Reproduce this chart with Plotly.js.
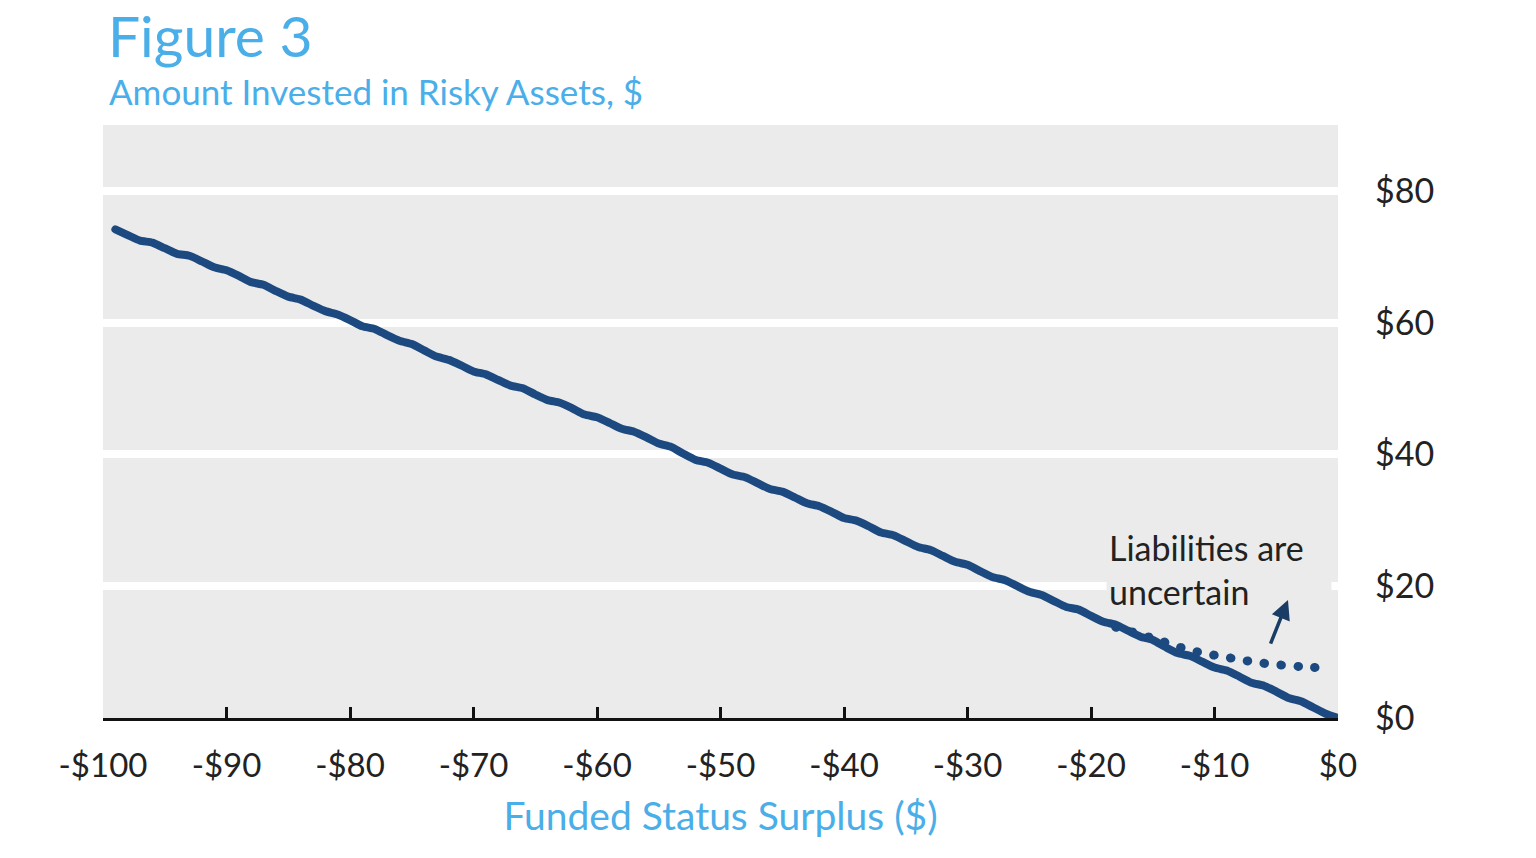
<!DOCTYPE html>
<html>
<head>
<meta charset="utf-8">
<script src="https://cdn.plot.ly/plotly-3.0.1.min.js"></script>
<style>
  html, body { margin: 0; padding: 0; background: #ffffff; }
  #chart { width: 1536px; height: 858px; }
  .js-line { stroke-linecap: round; stroke-linejoin: round; }
</style>
</head>
<body>
<div id="chart"></div>
<script>
// Funded status surplus ($)
const surplus = [
  -99, -98, -97, -96, -95, -94, -93, -92, -91, -90,
  -89, -88, -87, -86, -85, -84, -83, -82, -81, -80,
  -79, -78, -77, -76, -75, -74, -73, -72, -71, -70,
  -69, -68, -67, -66, -65, -64, -63, -62, -61, -60,
  -59, -58, -57, -56, -55, -54, -53, -52, -51, -50,
  -49, -48, -47, -46, -45, -44, -43, -42, -41, -40,
  -39, -38, -37, -36, -35, -34, -33, -32, -31, -30,
  -29, -28, -27, -26, -25, -24, -23, -22, -21, -20,
  -19, -18, -17, -16, -15, -14, -13, -12, -11, -10,
  -9, -8, -7, -6, -5, -4, -3, -2, -1, 0
];
// Amount invested in risky assets ($), liabilities certain
const riskyAssets = [
  74.15, 73.3, 72.45, 72.15, 71.3, 70.45, 70.15, 69.3, 68.4, 67.95,
  67.1, 66.15, 65.75, 64.8, 63.95, 63.5, 62.6, 61.75, 61.25, 60.4,
  59.45, 59.05, 58.1, 57.25, 56.75, 55.8, 54.85, 54.35, 53.5, 52.6,
  52.15, 51.3, 50.45, 50.05, 49.1, 48.25, 47.85, 47.0, 46.05, 45.65,
  44.8, 43.9, 43.45, 42.6, 41.65, 41.15, 40.1, 39.15, 38.75, 37.85,
  36.95, 36.55, 35.65, 34.75, 34.35, 33.5, 32.6, 32.15, 31.3, 30.35,
  29.95, 29.1, 28.15, 27.75, 26.85, 25.95, 25.5, 24.6, 23.7, 23.25,
  22.3, 21.4, 20.95, 20.05, 19.15, 18.65, 17.75, 16.85, 16.45, 15.5,
  14.6, 14.15, 13.25, 12.35, 11.85, 10.8, 9.85, 9.45, 8.55, 7.65,
  7.2, 6.3, 5.35, 4.9, 4.0, 3.05, 2.55, 1.6, 0.65, 0
];
// Liabilities uncertain
const uncertainSurplus = [-18, -15, -12, -9, -6, -3, -1];
const uncertainAssets = [13.8, 12.1, 10.3, 9.2, 8.3, 7.8, 7.6];

const xTickVals = [-100, -90, -80, -70, -60, -50, -40, -30, -20, -10, 0];
const xTickText = ['-$100', '-$90', '-$80', '-$70', '-$60', '-$50', '-$40', '-$30', '-$20', '-$10', '$0'];
const yTickVals = [0, 20, 40, 60, 80];
const yTickText = ['$0', '$20', '$40', '$60', '$80'];

const navy = '#1c4a80';
const blue = '#4aaee8';
const font = 'Lato, "Open Sans", sans-serif';

const traces = [
  {
    x: uncertainSurplus, y: uncertainAssets, type: 'scatter', mode: 'lines',
    line: { color: navy, width: 9, dash: '0.5px,16.5px', shape: 'spline' },
    hoverinfo: 'skip', showlegend: false
  },
  {
    x: surplus, y: riskyAssets, type: 'scatter', mode: 'lines',
    line: { color: navy, width: 8, shape: 'spline', smoothing: 0.6 },
    hoverinfo: 'skip', showlegend: false
  }
];

const layout = {
  width: 1536, height: 858,
  margin: { l: 103, r: 198, t: 125, b: 140 },
  paper_bgcolor: '#ffffff',
  plot_bgcolor: '#ebebeb',
  font: { family: font, color: '#222222' },
  title: {
    text: 'Figure 3',
    font: { family: font, size: 57, color: blue },
    x: 108 / 1536, xref: 'container', xanchor: 'left',
    y: 1 - 37 / 858, yref: 'container', yanchor: 'middle'
  },
  xaxis: {
    range: [-100, 0],
    tickvals: xTickVals, ticktext: xTickText,
    ticks: 'inside', ticklen: 11, tickwidth: 3, tickcolor: '#111111',
    showline: true, linecolor: '#111111', linewidth: 3,
    showgrid: false, zeroline: false,
    tickfont: { family: font, size: 33, color: '#222222' },
    ticklabelstandoff: 16,
    title: { text: 'Funded Status Surplus ($)', font: { family: font, size: 39, color: blue }, standoff: 21 },
    fixedrange: true
  },
  yaxis: {
    range: [0, 90],
    side: 'right',
    tickvals: yTickVals, ticktext: yTickText,
    ticks: '', showline: false,
    showgrid: true, gridcolor: '#ffffff', gridwidth: 8,
    zeroline: false,
    tickfont: { family: font, size: 34, color: '#222222' },
    ticklabelstandoff: 36,
    fixedrange: true
  },
  annotations: [
    {
      text: 'Amount Invested in Risky Assets, $',
      xref: 'paper', yref: 'paper',
      x: 4 / 1235, y: 1 + 34 / 593, xanchor: 'left', yanchor: 'middle',
      showarrow: false,
      font: { family: font, size: 35, color: blue }
    },
    {
      text: 'Liabilities are<br>uncertain',
      xref: 'paper', yref: 'paper',
      x: 1003 / 1235, y: 1 - 399 / 593, xanchor: 'left', yanchor: 'top',
      align: 'left', showarrow: false,
      bgcolor: '#ebebeb', borderpad: 2, width: 220,
      font: { family: font, size: 34, color: '#222222' }
    },
    {
      text: '', x: -4.05, y: 17.9, xref: 'x', yref: 'y',
      showarrow: true, arrowhead: 2, arrowsize: 1.1, arrowwidth: 3.5,
      arrowcolor: '#1a3d66', ax: -18, ay: 45
    }
  ]
};

Plotly.newPlot('chart', traces, layout, { displayModeBar: false, staticPlot: true });
</script>
</body>
</html>
